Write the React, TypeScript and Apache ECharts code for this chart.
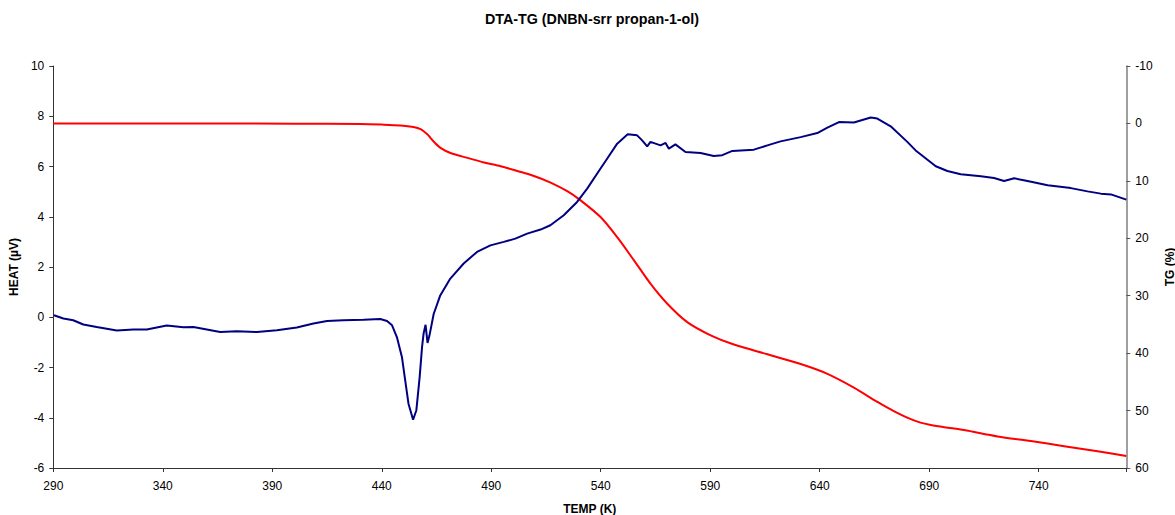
import React, { useEffect, useRef } from "react";
import * as echarts from "echarts";

const titleText = "DTA-TG (DNBN-srr propan-1-ol)";
const xTickStart = 290;
const xTickStep = 50;
const xEnd = 780;

// DTA (HEAT, µV) vs temperature (K)
const dtaTemp = [
  290.3, 294.6, 299.1, 303.7, 309.8, 319.0, 326.6, 332.7, 341.8, 349.4, 354.0, 360.1, 366.2, 373.8, 383.0, 392.1,
  401.2, 408.8, 415.0, 422.5, 431.7, 439.3, 442.4, 444.7, 446.9, 449.2, 450.7, 452.2, 454.3, 455.8, 457.3, 458.4,
  459.1, 460.0, 460.9, 461.8, 463.7, 466.7, 471.3, 477.4, 483.5, 489.6, 495.7, 501.0, 506.4, 512.5, 517.0, 523.1,
  529.2, 533.8, 539.9, 542.9, 547.5, 552.3, 556.6, 558.9, 561.2, 562.7, 565.0, 567.3, 569.6, 571.1, 574.1, 578.7,
  585.6, 591.6, 595.5, 600.1, 609.9, 616.1, 622.1, 631.3, 638.9, 643.5, 648.8, 655.6, 663.3, 666.3, 672.4, 680.0,
  683.8, 687.6, 693.0, 698.3, 704.4, 713.6, 719.6, 724.2, 728.8, 734.9, 744.1, 754.7, 762.3, 768.4, 773.0, 780.0,
];
const dtaHeat = [
  0.08, -0.05, -0.12, -0.29, -0.39, -0.53, -0.49, -0.49, -0.33, -0.40, -0.39, -0.49, -0.59, -0.56, -0.59, -0.52,
  -0.41, -0.25, -0.15, -0.12, -0.10, -0.07, -0.15, -0.32, -0.79, -1.58, -2.51, -3.44, -4.08, -3.70, -2.38, -1.18,
  -0.65, -0.30, -1.02, -0.72, 0.13, 0.87, 1.54, 2.14, 2.60, 2.86, 3.0, 3.13, 3.33, 3.49, 3.66, 4.06,
  4.59, 5.12, 5.92, 6.31, 6.91, 7.28, 7.24, 7.04, 6.80, 6.98, 6.91, 6.84, 6.94, 6.71, 6.88, 6.58,
  6.54, 6.42, 6.45, 6.62, 6.67, 6.84, 7.00, 7.17, 7.33, 7.55, 7.77, 7.75, 7.95, 7.91, 7.60, 6.98,
  6.64, 6.38, 6.01, 5.82, 5.69, 5.61, 5.54, 5.42, 5.53, 5.42, 5.25, 5.14, 5.01, 4.92, 4.89, 4.68,
];

// TG (%) vs temperature (K)
const tgTemp = [
  290, 350, 400, 430, 440, 448.6, 454.5, 457.7, 460.8, 462.2, 463.8, 467.0, 471.4, 479.1, 486.7, 494.3, 501.9,
  509.5, 517.1, 524.7, 530.8, 539.9, 547.5, 555.1, 562.7, 570.4, 579.5, 590.2, 600.8, 616.1, 631.3, 643.5,
  655.6, 666.3, 672.0, 677.0, 681.6, 686.0, 690.7, 697.0, 705.9, 721.2, 736.4, 751.6, 766.9, 780,
];
const tgValues = [
  0.0, 0.0, 0.05, 0.1, 0.2, 0.35, 0.62, 1.0, 1.9, 2.5, 3.2, 4.3, 5.15, 6.0, 6.8, 7.46, 8.28,
  9.15, 10.3, 11.8, 13.4, 16.3, 19.8, 23.8, 27.9, 31.4, 34.6, 36.9, 38.5, 40.2, 41.9, 43.6,
  46.0, 48.5, 49.7, 50.7, 51.5, 52.1, 52.5, 52.9, 53.4, 54.5, 55.3, 56.2, 57.1, 57.9,
];

const heatTicks = { min: -6, max: 10, step: 2 };
const tgTicks = { min: -10, max: 60, step: 10 };

const FONT = '"Liberation Sans", Arial, sans-serif';

export default function App() {
  const ref = useRef<HTMLDivElement>(null);
  useEffect(() => {
    if (!ref.current) return;
    const chart = echarts.init(ref.current, null, { renderer: "svg" });
    const dta = dtaTemp.map((t, i) => [t, dtaHeat[i]]);
    const tg = tgTemp.map((t, i) => [t, tgValues[i]]);
    const nameStyle = { fontFamily: FONT, fontSize: 12, fontWeight: "bold", color: "#000" };
    chart.setOption({
      animation: false,
      backgroundColor: "#ffffff",
      textStyle: { fontFamily: FONT },
      graphic: [
        {
          type: "text",
          x: 592,
          y: 19,
          style: {
            text: titleText,
            font: `bold 14.3px ${FONT}`,
            fill: "#000",
            align: "center",
            verticalAlign: "middle",
          },
        },
      ],
      grid: {
        left: 53.3,
        right: 48.7,
        top: 66,
        bottom: 47,
        containLabel: false,
        outerBoundsMode: "none",
      },
      xAxis: {
        type: "value",
        min: xTickStart,
        max: xEnd,
        interval: xTickStep,
        name: "TEMP (K)",
        nameLocation: "middle",
        nameGap: 35,
        nameTextStyle: nameStyle,
        axisLine: { show: true, onZero: false, lineStyle: { color: "#333", width: 1 } },
        axisTick: { show: true, length: 4, lineStyle: { color: "#333" } },
        axisLabel: {
          fontFamily: FONT,
          fontSize: 12,
          color: "#000",
          margin: 12,
          formatter: (v: number) => (v > xEnd - 10 ? "" : String(v)),
        },
        splitLine: { show: false },
      },
      yAxis: [
        {
          type: "value",
          position: "left",
          min: heatTicks.min,
          max: heatTicks.max,
          interval: heatTicks.step,
          name: "HEAT (µV)",
          nameLocation: "middle",
          nameRotate: 90,
          nameGap: 26,
          nameTextStyle: nameStyle,
          axisLine: { show: true, onZero: false, lineStyle: { color: "#333", width: 1 } },
          axisTick: { show: true, length: 4, lineStyle: { color: "#333" } },
          axisLabel: { fontFamily: FONT, fontSize: 12, color: "#000", margin: 9 },
          splitLine: { show: false },
        },
        {
          type: "value",
          position: "right",
          inverse: true,
          min: tgTicks.min,
          max: tgTicks.max,
          interval: tgTicks.step,
          name: "TG (%)",
          nameLocation: "middle",
          nameRotate: 90,
          nameGap: 29,
          nameTextStyle: { ...nameStyle, lineHeight: 12 },
          axisLine: { show: true, onZero: false, lineStyle: { color: "#7f7f7f", width: 1.5 } },
          axisTick: { show: true, length: 4, lineStyle: { color: "#555" } },
          axisLabel: { fontFamily: FONT, fontSize: 12, color: "#000", margin: 9 },
          splitLine: { show: false },
        },
      ],
      series: [
        {
          name: "TG",
          type: "line",
          yAxisIndex: 1,
          data: tg,
          showSymbol: false,
          smooth: 0.3,
          lineStyle: { color: "#ff0000", width: 2 },
          z: 2,
        },
        {
          name: "DTA",
          type: "line",
          yAxisIndex: 0,
          data: dta,
          showSymbol: false,
          lineStyle: { color: "#000080", width: 2 },
          z: 3,
        },
      ],
    });
    return () => chart.dispose();
  }, []);
  return (
    <div
      ref={ref}
      style={{ position: "fixed", left: 0, top: 0, width: 1175, height: 515, background: "#fff" }}
    />
  );
}
